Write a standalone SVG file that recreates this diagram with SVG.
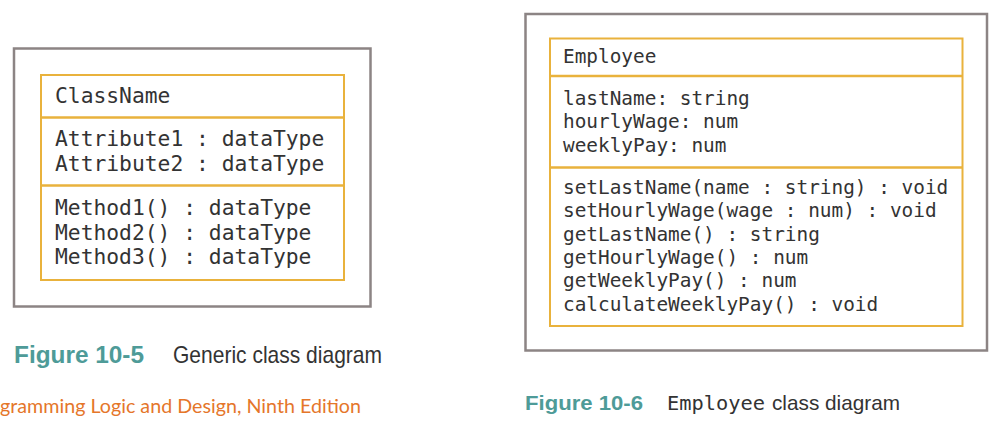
<svg xmlns="http://www.w3.org/2000/svg" width="998" height="429" viewBox="0 0 998 429">
<style>
.frame{fill:#fff;stroke:#8c8484;stroke-width:2.5}
.cls{fill:#fff;stroke:#e9b23c;stroke-width:2}
.div{stroke:#e9b23c;stroke-width:2.5}
.m1{font-family:"DejaVu Sans Mono","Liberation Mono",monospace;font-size:21.3px;fill:#333}
.m2{font-family:"DejaVu Sans Mono","Liberation Mono",monospace;font-size:19.4px;fill:#333}
.fig{font-family:"Liberation Sans",Arial,sans-serif;font-weight:bold;fill:#4e9b98}
.cap{font-family:"Liberation Sans",Arial,sans-serif;fill:#333}
.src{font-family:Lato,"Open Sans",sans-serif;fill:#e5762a;font-size:19px}
</style>
<rect width="998" height="429" fill="#fff"/>
<g id="generic-class">
<rect class="frame" x="14" y="48.5" width="356.5" height="258"/>
<rect class="cls" x="41" y="75" width="303" height="205"/>
<line class="div" x1="41" y1="117.5" x2="344" y2="117.5"/>
<line class="div" x1="41" y1="185.5" x2="344" y2="185.5"/>
<text class="m1" x="55" y="103">ClassName</text>
<text class="m1" x="55" y="146">Attribute1 : dataType</text>
<text class="m1" x="55" y="170.5">Attribute2 : dataType</text>
<text class="m1" x="55" y="215">Method1() : dataType</text>
<text class="m1" x="55" y="239.5">Method2() : dataType</text>
<text class="m1" x="55" y="263.5">Method3() : dataType</text>
</g>
<g id="employee-class">
<rect class="frame" x="525.5" y="14" width="461.5" height="336.5"/>
<rect class="cls" x="550" y="38.5" width="412.5" height="287.5"/>
<line class="div" x1="550" y1="76" x2="962.5" y2="76"/>
<line class="div" x1="550" y1="167.5" x2="962.5" y2="167.5"/>
<text class="m2" x="563" y="63">Employee</text>
<text class="m2" x="563" y="105">lastName: string</text>
<text class="m2" x="563" y="128.3">hourlyWage: num</text>
<text class="m2" x="563" y="151.6">weeklyPay: num</text>
<text class="m2" x="563" y="194">setLastName(name : string) : void</text>
<text class="m2" x="563" y="217.3">setHourlyWage(wage : num) : void</text>
<text class="m2" x="563" y="240.6">getLastName() : string</text>
<text class="m2" x="563" y="263.9">getHourlyWage() : num</text>
<text class="m2" x="563" y="287.2">getWeeklyPay() : num</text>
<text class="m2" x="563" y="310.5">calculateWeeklyPay() : void</text>
</g>
<g id="captions">
<text class="fig" x="14" y="363" font-size="24" textLength="130" lengthAdjust="spacingAndGlyphs">Figure 10-5</text>
<text class="cap" x="173" y="363" font-size="24" textLength="209" lengthAdjust="spacingAndGlyphs">Generic class diagram</text>
<text class="src" x="0" y="413" textLength="361" lengthAdjust="spacingAndGlyphs">gramming Logic and Design, Ninth Edition</text>
<text class="fig" x="525" y="410" font-size="21" textLength="118" lengthAdjust="spacingAndGlyphs">Figure 10-6</text>
<text class="m2" x="667" y="410" textLength="98" lengthAdjust="spacingAndGlyphs">Employee</text>
<text class="cap" x="772" y="410" font-size="21" textLength="128" lengthAdjust="spacingAndGlyphs">class diagram</text>
</g>
</svg>
